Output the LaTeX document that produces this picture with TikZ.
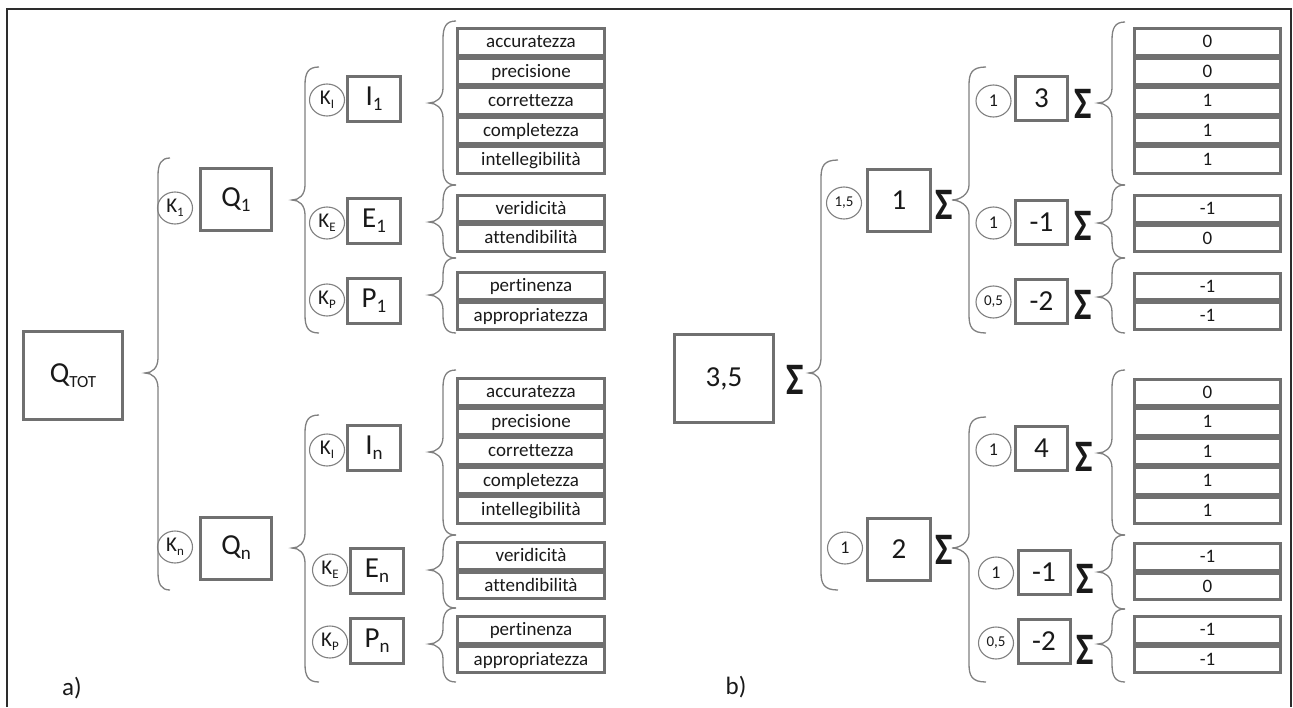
\documentclass[tikz,border=0pt]{standalone}
\usepackage{fontspec}
\setmainfont{Carlito}[Ligatures=NoCommon]
\usetikzlibrary{shapes.geometric}
\definecolor{boxgray}{RGB}{112,112,112}
\definecolor{lingray}{RGB}{128,128,128}
\definecolor{framegray}{RGB}{45,45,45}
\definecolor{txt}{RGB}{25,25,25}
\newcommand\fbig{\fontsize{29}{31}\selectfont}
\newcommand\fsubbig{\fontsize{19}{20}\selectfont}
\newcommand\ftot{\fontsize{17}{18}\selectfont}
\newcommand\fk{\fontsize{21}{23}\selectfont}
\newcommand\fksub{\fontsize{13}{14}\selectfont}
\newcommand\fleaf{\fontsize{19}{20}\selectfont}
\newcommand\fcone{\fontsize{18}{19}\selectfont}
\newcommand\fctwo{\fontsize{15}{16}\selectfont}
\newcommand\fsig{\fontsize{45}{47}\selectfont\bfseries}
\newcommand\flab{\fontsize{25}{27}\selectfont}
\newcommand\subb[1]{\raisebox{-5pt}{\fsubbig #1}}
\newcommand\subt[1]{\raisebox{-4.5pt}{\ftot #1}}
\newcommand\subk[1]{\raisebox{-4pt}{\fksub #1}}
\newcommand\sgm{\scalebox{0.82}[1]{Σ}}
% brace: xs (spine), xt (tip), xe (ends), ytop, ymid, ybot
\newcommand\cbr[6]{%
  \draw[brc] (#3,#4) .. controls (#1+3,#4) and (#1,#4+6) .. (#1,#4+18)
    -- (#1,#5-15) .. controls (#1,#5-5) and (#2+7,#5) .. (#2,#5)
    .. controls (#2+7,#5) and (#1,#5+5) .. (#1,#5+15)
    -- (#1,#6-18) .. controls (#1,#6-6) and (#1+3,#6) .. (#3,#6);}
\begin{document}
\begin{tikzpicture}[x=1pt,y=-1pt,
  every node/.style={text=txt},
  qbox/.style={draw=boxgray, line width=3, rectangle, inner sep=0,
    minimum width=99, minimum height=88, font=\fbig},
  mbox/.style={draw=boxgray, line width=3, rectangle, inner sep=0,
    minimum width=71, minimum height=62, font=\fbig},
  rmbox/.style={mbox, minimum width=63},
  sbox/.style={draw=boxgray, line width=3, rectangle, inner sep=0,
    minimum width=53, minimum height=45, font=\fbig},
  rsbox/.style={sbox, minimum width=52, minimum height=44},
  leafl/.style={draw=boxgray, line width=2.6, rectangle, inner sep=0,
    minimum width=147.5, minimum height=26.5, font=\fleaf,
    text height=14, text depth=3},
  leafr/.style={leafl, minimum width=146.5},
  kc/.style={draw=lingray, line width=1.1, ellipse, inner sep=0,
    minimum width=35, minimum height=32, font=\fk},
  nc/.style={kc, font=\fcone},
  nc2/.style={kc, font=\fctwo},
  sig/.style={inner sep=0, font=\fsig},
  brc/.style={draw=lingray, line width=1.3},
  frame/.style={draw=framegray, line width=1.5}]
\useasboundingbox (0,0) rectangle (1293,707);
\draw[frame] (7,707) -- (7,9) -- (1291,9) -- (1291,707);

% ================= a) =================
\node[qbox] (qtot) at (73,375.5) {Q\subt{TOT}};
\cbr{158}{145}{170}{158}{373}{590}
\node[kc] (k1) at (175,208) {K\subk{1}};
\node[mbox] (q1) at (236,199.5) {Q\subb{1}};
\node[kc] (kn) at (175,547) {K\subk{n}};
\node[mbox] (qn) at (236,548) {Q\subb{n}};
\cbr{305}{292}{319}{67}{200}{333}
\cbr{305}{292}{319}{415}{548}{682}
\node[kc] (ki1) at (327,100) {K\subk{I}};
\node[sbox] (i1) at (374,99) {I\subb{1}};
\node[kc] (ke1) at (327,223) {K\subk{E}};
\node[sbox] (e1) at (374,221) {E\subb{1}};
\node[kc] (kp1) at (327,300) {K\subk{P}};
\node[sbox] (p1) at (374,300.5) {P\subb{1}};
\node[kc] (kin) at (327,450) {K\subk{I}};
\node[sbox] (in) at (374,447.5) {I\subb{n}};
\node[kc] (ken) at (330,570) {K\subk{E}};
\node[sbox] (en) at (377,571) {E\subb{n}};
\node[kc] (kpn) at (330,642) {K\subk{P}};
\node[sbox] (pn) at (377,640.5) {P\subb{n}};
\cbr{443}{429}{456}{21}{103}{185}
\cbr{443}{429}{456}{185}{222}{258}
\cbr{443}{429}{456}{258}{295}{333}
\cbr{443}{429}{456}{370}{452}{535}
\cbr{443}{429}{456}{535}{570}{608}
\cbr{443}{429}{456}{608}{644}{682}
\node[leafl] (la1) at (531,42) {accuratezza};
\node[leafl] (la2) at (531,71.5) {precisione};
\node[leafl] (la3) at (531,101) {correttezza};
\node[leafl] (la4) at (531,130.5) {completezza};
\node[leafl] (la5) at (531,160) {intellegibilità};
\node[leafl] (la6) at (531,208.5) {veridicità};
\node[leafl] (la7) at (531,238) {attendibilità};
\node[leafl] (la8) at (531,286) {pertinenza};
\node[leafl] (la9) at (531,316) {appropriatezza};
\node[leafl] (lb1) at (531,392) {accuratezza};
\node[leafl] (lb2) at (531,421.5) {precisione};
\node[leafl] (lb3) at (531,451) {correttezza};
\node[leafl] (lb4) at (531,480.5) {completezza};
\node[leafl] (lb5) at (531,510) {intellegibilità};
\node[leafl] (lb6) at (531,556) {veridicità};
\node[leafl] (lb7) at (531,585.5) {attendibilità};
\node[leafl] (lb8) at (531,630) {pertinenza};
\node[leafl] (lb9) at (531,659.5) {appropriatezza};
\node[font=\flab] (laba) at (72,688) {a)};

% ================= b) =================
\node[qbox] (r0) at (724,378.5) {3,5};
\node[sig] (s0) at (795,380) {\sgm};
\cbr{821}{809}{838}{160}{373}{590}
\node[nc2] (c1) at (844,203) {1,5};
\node[rmbox] (r1) at (899,200.5) {1};
\node[sig] (s1) at (944,205) {\sgm};
\node[nc] (c2) at (845,548) {1};
\node[rmbox] (r2) at (899,549.5) {2};
\node[sig] (s2) at (944,550) {\sgm};
\cbr{969}{952}{986}{67}{200}{333}
\cbr{969}{952}{986}{417}{548}{682}
\node[nc] (c11) at (993.5,101) {1};
\node[rsbox] (r11) at (1041.5,98.5) {3};
\node[sig] (s11) at (1083,104) {\sgm};
\node[nc] (c12) at (993.5,223) {1};
\node[rsbox] (r12) at (1041.5,222.5) {-1};
\node[sig] (s12) at (1083,226) {\sgm};
\node[nc2] (c13) at (993.5,302) {0,5};
\node[rsbox] (r13) at (1041.5,301) {-2};
\node[sig] (s13) at (1083,305) {\sgm};
\node[nc] (c21) at (993.5,450) {1};
\node[rsbox] (r21) at (1041.5,448.5) {4};
\node[sig] (s21) at (1084,457) {\sgm};
\node[nc] (c22) at (996,573) {1};
\node[rsbox] (r22) at (1044,572.5) {-1};
\node[sig] (s22) at (1085,579) {\sgm};
\node[nc2] (c23) at (996,643) {0,5};
\node[rsbox] (r23) at (1044,641) {-2};
\node[sig] (s23) at (1085,650) {\sgm};
\cbr{1112}{1098}{1125}{22}{103}{185}
\cbr{1112}{1098}{1125}{185}{223}{258}
\cbr{1112}{1098}{1125}{258}{297}{333}
\cbr{1112}{1098}{1125}{370}{453}{535}
\cbr{1112}{1098}{1125}{535}{572}{609}
\cbr{1112}{1098}{1125}{609}{644}{682}
\node[leafr] (ra1) at (1207.5,42) {0};
\node[leafr] (ra2) at (1207.5,71.5) {0};
\node[leafr] (ra3) at (1207.5,101) {1};
\node[leafr] (ra4) at (1207.5,130.5) {1};
\node[leafr] (ra5) at (1207.5,160) {1};
\node[leafr] (ra6) at (1207.5,209) {-1};
\node[leafr] (ra7) at (1207.5,238.5) {0};
\node[leafr] (ra8) at (1207.5,286.5) {-1};
\node[leafr] (ra9) at (1207.5,316) {-1};
\node[leafr] (rb1) at (1207.5,392.5) {0};
\node[leafr] (rb2) at (1207.5,422) {1};
\node[leafr] (rb3) at (1207.5,451.5) {1};
\node[leafr] (rb4) at (1207.5,481) {1};
\node[leafr] (rb5) at (1207.5,510.5) {1};
\node[leafr] (rb6) at (1207.5,557) {-1};
\node[leafr] (rb7) at (1207.5,586.5) {0};
\node[leafr] (rb8) at (1207.5,630) {-1};
\node[leafr] (rb9) at (1207.5,659.5) {-1};
\node[font=\flab] (labb) at (736,687) {b)};
\end{tikzpicture}
\end{document}
